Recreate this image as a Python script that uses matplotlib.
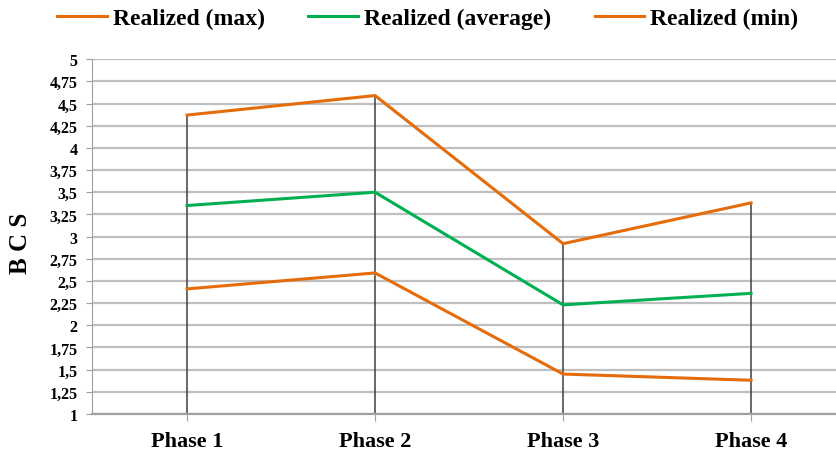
import matplotlib.pyplot as plt
from matplotlib.ticker import MultipleLocator, FuncFormatter

phases = ["Phase 1", "Phase 2", "Phase 3", "Phase 4"]
bcs_max = [4.37, 4.59, 2.92, 3.38]
bcs_avg = [3.35, 3.50, 2.23, 2.36]
bcs_min = [2.41, 2.59, 1.45, 1.38]

orange = "#E46C0A"
green = "#00B050"
serif = ["Liberation Serif", "DejaVu Serif"]

fig = plt.figure(figsize=(8.37, 4.56), dpi=100)
ax = fig.add_axes([0.110, 0.090, 0.890, 0.778])

x = list(range(1, len(phases) + 1))

# high-low style lines, from the axis floor up to the max
ax.vlines(x, 1, bcs_max, color="#404040", lw=1.1, zorder=2)

l1, = ax.plot(x, bcs_max, color=orange, lw=2.2, zorder=3)
l2, = ax.plot(x, bcs_avg, color=green, lw=2.2, zorder=3)
l3, = ax.plot(x, bcs_min, color=orange, lw=2.2, zorder=3)

ax.set_ylim(1, 5)
ax.set_xlim(0.495, 4.457)
ax.yaxis.set_major_locator(MultipleLocator(0.25))
ax.yaxis.set_major_formatter(FuncFormatter(lambda v, p: f"{v:g}".replace(".", ",")))
ax.grid(axis="y", color="#BFBFBF", lw=1.6, zorder=1)
ax.set_axisbelow(True)

ax.set_xticks(x)
ax.set_xticklabels(phases)
for lab in ax.get_xticklabels():
    lab.set_fontfamily(serif)
    lab.set_fontweight("bold")
    lab.set_fontsize(16)
for lab in ax.get_yticklabels():
    lab.set_fontfamily(serif)
    lab.set_fontweight("bold")
    lab.set_fontsize(11.5)

ax.tick_params(axis="y", length=4.5, color="#A0A0A0", pad=6)
ax.tick_params(axis="x", length=5, color="#A0A0A0", pad=7)

for s in ["top", "right"]:
    ax.spines[s].set_visible(False)
ax.spines["left"].set_color("#A0A0A0")
ax.spines["bottom"].set_color("#A0A0A0")
ax.spines["bottom"].set_linewidth(1.6)

ax.set_ylabel("B C S", fontfamily=serif, fontweight="bold", fontsize=18)
ax.yaxis.set_label_coords(-0.080, 0.485)

fig.legend([l1, l2, l3], ["Realized (max)", "Realized (average)", "Realized (min)"],
           loc="center", bbox_to_anchor=(0.511, 0.957), ncol=3, frameon=False,
           prop={"family": serif, "weight": "bold", "size": 17},
           handlelength=2.1, handletextpad=0.25, columnspacing=1.85)

fig.savefig("out.png", dpi=100)
